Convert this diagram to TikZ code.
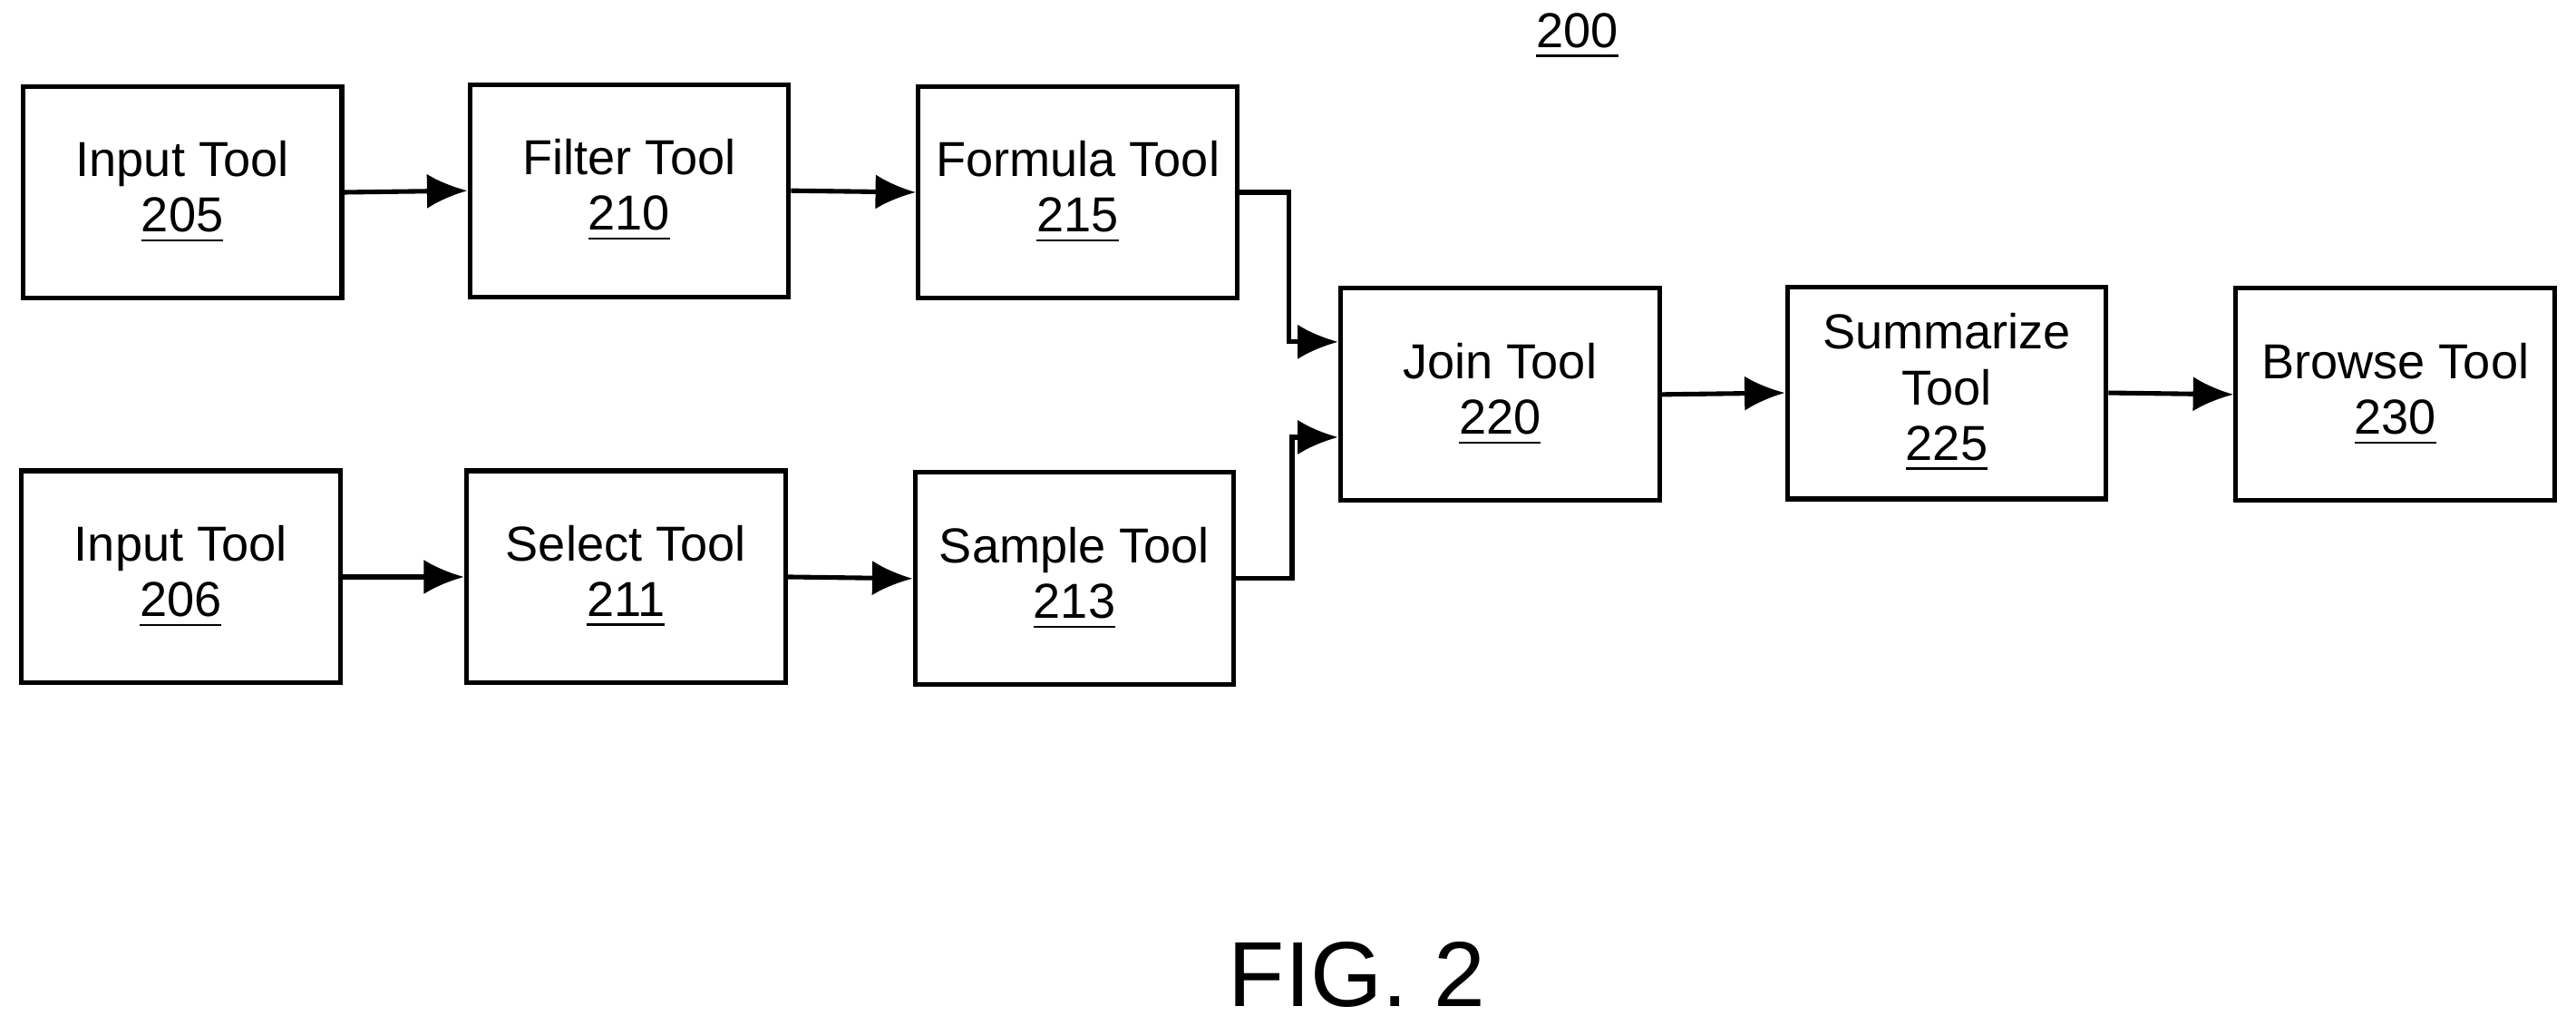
\documentclass[tikz,border=0pt]{standalone}
\usepackage{fontspec}
\setmainfont{Liberation Sans}
\usetikzlibrary{arrows.meta,positioning}

\begin{document}
\begin{tikzpicture}[x=0.01cm, y=-0.01cm,
    tool/.style={rectangle, draw, thick, minimum width=1.94cm, minimum height=1.29cm,
                 inner sep=1pt, align=center, font=\fontsize{8.5}{9.6}\selectfont},
    flow/.style={-{Latex[length=7pt,width=6pt]}, thick}]
    \useasboundingbox (0,0) rectangle (1568,624);
    % Nodes
    \node [tool] (in1) at (111,117) {Input Tool\\\underline{205}};
    \node [tool] (filter) at (383,116) {Filter Tool\\\underline{210}};
    \node [tool] (formula) at (656,117) {Formula Tool\\\underline{215}};
    \node [tool] (in2) at (110,351) {Input Tool\\\underline{206}};
    \node [tool] (select) at (381,351) {Select Tool\\\underline{211}};
    \node [tool] (sample) at (654,352) {Sample Tool\\\underline{213}};
    \node [tool] (join) at (913,240) {Join Tool\\\underline{220}};
    \node [tool] (summ) at (1185,239) {Summarize\\Tool\\\underline{225}};
    \node [tool] (browse) at (1458,240) {Browse Tool\\\underline{230}};
    \node [font=\fontsize{8.5}{10}\selectfont] (fig) at (960,22) {\underline{200}};
    \node [font=\fontsize{16}{19}\selectfont] (label) at (826,593) {FIG. 2};

    % Path
    \draw [flow] (in1.east) -- (filter.west);
    \draw [flow] (filter.east) -- (formula.west);
    \draw [flow] (in2.east) -- (select.west);
    \draw [flow] (select.east) -- (sample.west);
    \draw [flow] (formula.east) -- ++(30,0) |- ([shift={(0,-32)}]join.west);
    \draw [flow] (sample.east) -- ++(34,0) |- ([shift={(0,26)}]join.west);
    \draw [flow] (join.east) -- (summ.west);
    \draw [flow] (summ.east) -- (browse.west);
\end{tikzpicture}
\end{document}
